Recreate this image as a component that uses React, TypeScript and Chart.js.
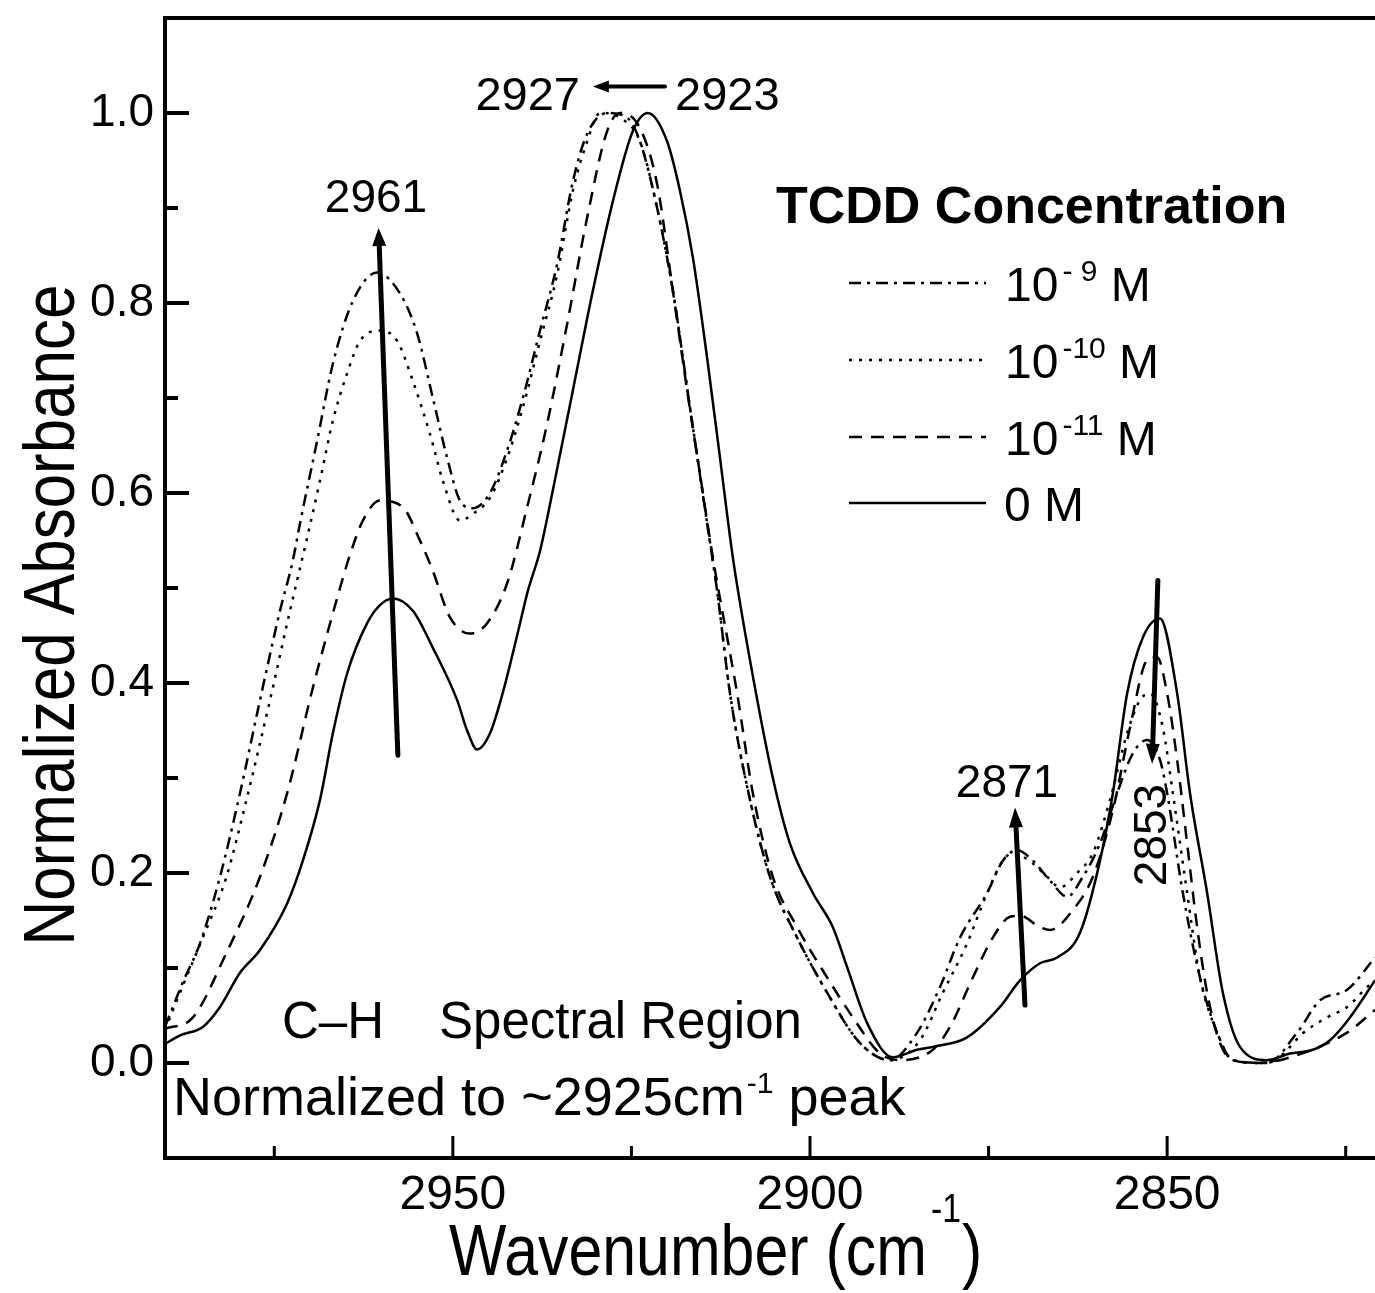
import React, { useEffect, useRef } from 'react';
import { Chart, registerables } from 'chart.js';

Chart.register(...registerables);

const FONT = '"Liberation Sans", Arial, Helvetica, sans-serif';

// ---------------- data (wavenumber in cm-1, normalized absorbance) ----------------
// 10^-9 M (dash-dot)
const wn9 = [2990.3, 2987.8, 2985.4, 2982.6, 2979.8, 2977.0, 2974.2, 2972.4, 2971.4, 2969.0, 2966.8, 2964.0, 2960.6, 2957.4, 2955.0, 2952.8, 2950.8, 2949.0, 2947.2, 2944.8, 2942.4, 2940.2, 2937.8, 2935.4, 2933.2, 2931.2, 2928.4, 2925.6, 2923.8, 2921.4, 2919.2, 2916.8, 2914.4, 2913.0, 2911.2, 2908.4, 2905.6, 2901.8, 2897.6, 2893.0, 2888.8, 2885.0, 2881.8, 2879.0, 2875.2, 2873.0, 2871.0, 2868.8, 2866.4, 2864.0, 2861.8, 2859.4, 2857.0, 2854.8, 2852.8, 2851.0, 2850.0, 2847.8, 2845.4, 2843.0, 2840.8, 2836.0, 2831.8, 2828.6, 2824.8, 2820.9];
const abs9 = [0.038, 0.085, 0.126, 0.196, 0.284, 0.382, 0.476, 0.529, 0.568, 0.655, 0.736, 0.802, 0.832, 0.810, 0.768, 0.700, 0.637, 0.592, 0.584, 0.600, 0.645, 0.700, 0.771, 0.841, 0.928, 0.978, 1.000, 0.995, 0.970, 0.900, 0.813, 0.690, 0.568, 0.497, 0.389, 0.277, 0.196, 0.132, 0.074, 0.021, 0.003, 0.032, 0.080, 0.132, 0.179, 0.213, 0.224, 0.213, 0.192, 0.175, 0.196, 0.231, 0.284, 0.326, 0.340, 0.319, 0.284, 0.179, 0.090, 0.032, 0.003, 0.000, 0.032, 0.066, 0.077, 0.111];

// 10^-10 M (dotted)
const wn10 = [2990.3, 2987.6, 2985.0, 2981.7, 2978.9, 2975.6, 2972.8, 2970.4, 2968.6, 2966.8, 2964.8, 2963.0, 2960.2, 2957.8, 2955.6, 2953.2, 2951.4, 2949.0, 2947.2, 2944.8, 2942.4, 2940.2, 2937.8, 2935.4, 2933.2, 2931.2, 2929.4, 2926.6, 2923.8, 2921.4, 2919.2, 2916.8, 2914.4, 2913.0, 2911.2, 2908.4, 2905.6, 2901.8, 2897.6, 2893.0, 2888.8, 2884.6, 2881.4, 2878.0, 2875.2, 2873.0, 2871.6, 2868.8, 2866.8, 2865.0, 2862.6, 2860.4, 2858.0, 2855.6, 2853.8, 2852.4, 2850.6, 2849.2, 2847.2, 2845.4, 2843.0, 2840.8, 2836.0, 2830.4, 2827.6, 2824.8, 2822.0, 2820.9];
const abs10 = [0.035, 0.085, 0.132, 0.196, 0.277, 0.382, 0.476, 0.553, 0.613, 0.676, 0.726, 0.760, 0.771, 0.760, 0.718, 0.662, 0.613, 0.571, 0.578, 0.595, 0.637, 0.690, 0.760, 0.830, 0.918, 0.970, 1.000, 0.995, 0.970, 0.900, 0.813, 0.690, 0.568, 0.497, 0.389, 0.277, 0.196, 0.132, 0.074, 0.021, 0.003, 0.024, 0.074, 0.126, 0.179, 0.213, 0.221, 0.210, 0.196, 0.185, 0.200, 0.221, 0.277, 0.347, 0.382, 0.389, 0.353, 0.284, 0.179, 0.090, 0.032, 0.003, 0.000, 0.035, 0.048, 0.059, 0.080, 0.087];

// 10^-11 M (dashed)
const wn11 = [2990.3, 2986.4, 2981.7, 2977.0, 2973.2, 2969.6, 2965.8, 2964.4, 2962.6, 2960.2, 2957.0, 2954.6, 2952.8, 2950.4, 2947.6, 2945.2, 2942.4, 2939.6, 2936.8, 2934.0, 2931.2, 2928.4, 2926.6, 2923.8, 2921.4, 2919.2, 2917.2, 2915.4, 2913.6, 2910.2, 2908.0, 2905.2, 2901.8, 2897.6, 2894.0, 2890.2, 2887.4, 2882.8, 2880.4, 2877.2, 2874.4, 2872.0, 2870.6, 2867.8, 2866.4, 2863.2, 2860.4, 2857.6, 2855.2, 2852.8, 2851.4, 2850.0, 2848.6, 2847.2, 2845.8, 2844.4, 2842.6, 2840.8, 2837.0, 2832.8, 2824.8, 2820.9];
const abs11 = [0.036, 0.048, 0.116, 0.196, 0.284, 0.395, 0.500, 0.535, 0.571, 0.592, 0.585, 0.550, 0.518, 0.469, 0.452, 0.463, 0.505, 0.585, 0.673, 0.778, 0.890, 0.981, 1.000, 0.984, 0.925, 0.813, 0.708, 0.620, 0.532, 0.389, 0.284, 0.196, 0.143, 0.090, 0.048, 0.010, 0.003, 0.014, 0.038, 0.090, 0.132, 0.154, 0.155, 0.143, 0.140, 0.161, 0.196, 0.266, 0.353, 0.424, 0.427, 0.389, 0.319, 0.231, 0.143, 0.074, 0.021, 0.003, 0.000, 0.006, 0.032, 0.056];

// 0 M (solid)
const wn0 = [2990.3, 2988.2, 2985.0, 2982.6, 2979.8, 2977.0, 2973.2, 2971.0, 2968.6, 2966.8, 2964.8, 2962.0, 2960.2, 2958.4, 2955.6, 2952.8, 2949.4, 2948.0, 2946.6, 2944.8, 2943.0, 2941.0, 2939.5, 2937.8, 2936.0, 2933.2, 2930.4, 2927.6, 2924.8, 2922.7, 2920.0, 2918.2, 2916.4, 2914.4, 2912.6, 2910.8, 2908.4, 2905.2, 2902.8, 2899.6, 2896.8, 2894.8, 2892.0, 2888.4, 2885.0, 2882.8, 2878.0, 2873.4, 2870.6, 2867.8, 2865.4, 2862.2, 2859.4, 2857.6, 2855.6, 2853.4, 2851.0, 2848.6, 2846.8, 2844.4, 2842.2, 2839.8, 2836.0, 2832.8, 2829.6, 2827.2, 2824.4, 2820.9];
const abs0 = [0.020, 0.029, 0.038, 0.059, 0.095, 0.119, 0.168, 0.213, 0.277, 0.347, 0.410, 0.463, 0.482, 0.489, 0.476, 0.437, 0.382, 0.350, 0.330, 0.347, 0.390, 0.450, 0.497, 0.539, 0.603, 0.708, 0.813, 0.907, 0.981, 1.000, 0.970, 0.918, 0.848, 0.742, 0.637, 0.532, 0.424, 0.300, 0.231, 0.179, 0.143, 0.101, 0.042, 0.006, 0.014, 0.017, 0.027, 0.059, 0.087, 0.105, 0.111, 0.137, 0.213, 0.284, 0.389, 0.448, 0.468, 0.389, 0.284, 0.179, 0.074, 0.017, 0.003, 0.010, 0.014, 0.024, 0.048, 0.087];

const seriesLabels = ['10^-9 M', '10^-10 M', '10^-11 M', '0 M'];
const legendBase = ['10', '10', '10', '0'];
const legendSup = ['- 9', '-10', '-11', ''];

const xMajorTicks = [2950, 2900, 2850];
const xMinorTicks = [2975, 2925, 2875, 2825];
const yMajorTicks = [0, 0.2, 0.4, 0.6, 0.8, 1.0];
const yMinorTicks = [0.1, 0.3, 0.5, 0.7, 0.9];

const X_LEFT = 2990.3;
const X_RIGHT = 2820.9;
const Y_MIN = -0.1;
const Y_MAX = 1.1;

// ---------------- styles ----------------
const DASHES: number[][] = [[12, 6, 3, 6], [3, 7], [13, 9], []];
const LINE_W = 2.5;

const font = (size: number, bold = false) => `${bold ? 'bold ' : ''}${size}px ${FONT}`;

function drawArrow(ctx: CanvasRenderingContext2D, x1: number, y1: number, x2: number, y2: number, lw: number, headLen: number, headW: number) {
  const dx = x2 - x1;
  const dy = y2 - y1;
  const len = Math.hypot(dx, dy);
  const ux = dx / len;
  const uy = dy / len;
  const bx = x2 - ux * headLen;
  const by = y2 - uy * headLen;
  ctx.lineWidth = lw;
  ctx.lineCap = 'round';
  ctx.setLineDash([]);
  ctx.beginPath();
  ctx.moveTo(x1, y1);
  ctx.lineTo(bx + ux * 2, by + uy * 2);
  ctx.stroke();
  ctx.beginPath();
  ctx.moveTo(x2, y2);
  ctx.lineTo(bx - uy * headW, by + ux * headW);
  ctx.lineTo(bx + uy * headW, by - ux * headW);
  ctx.closePath();
  ctx.fill();
}

function drawText(ctx: CanvasRenderingContext2D, s: string, x: number, y: number, size: number, align: CanvasTextAlign = 'left', bold = false) {
  ctx.font = font(size, bold);
  ctx.textAlign = align;
  ctx.textBaseline = 'alphabetic';
  ctx.fillText(s, x, y);
  return ctx.measureText(s).width;
}

const notesPlugin = {
  id: 'notesPlugin',
  afterDraw(chart: any) {
    const ctx: CanvasRenderingContext2D = chart.ctx;
    const xs = chart.scales.x;
    const ys = chart.scales.y;
    const { left, right, top, bottom } = chart.chartArea;
    const X = (v: number) => xs.getPixelForValue(v);
    const Y = (v: number) => ys.getPixelForValue(v);
    ctx.save();
    ctx.fillStyle = '#000';
    ctx.strokeStyle = '#000';
    ctx.setLineDash([]);

    // frame
    ctx.lineWidth = 4;
    ctx.lineJoin = 'miter';
    ctx.lineCap = 'butt';
    ctx.beginPath();
    ctx.moveTo(right + 4, top);
    ctx.lineTo(left, top);
    ctx.lineTo(left, bottom);
    ctx.lineTo(right + 4, bottom);
    ctx.stroke();

    // y ticks (inward)
    ctx.lineWidth = 4;
    ctx.beginPath();
    yMajorTicks.forEach((v) => { ctx.moveTo(left, Y(v)); ctx.lineTo(left + 24, Y(v)); });
    yMinorTicks.forEach((v) => { ctx.moveTo(left, Y(v)); ctx.lineTo(left + 13, Y(v)); });
    ctx.stroke();
    // x ticks (inward)
    ctx.lineWidth = 3;
    ctx.beginPath();
    xMajorTicks.forEach((v) => { ctx.moveTo(X(v), bottom); ctx.lineTo(X(v), bottom - 22); });
    xMinorTicks.forEach((v) => { ctx.moveTo(X(v), bottom); ctx.lineTo(X(v), bottom - 12); });
    ctx.stroke();

    // arrows
    drawArrow(ctx, X(2957.7), Y(0.324), X(2960.4), Y(0.879), 5, 18, 7);
    drawArrow(ctx, X(2920.3), Y(1.028), X(2930.4), Y(1.028), 4, 16, 6);
    drawArrow(ctx, X(2869.9), Y(0.061), X(2871.3), Y(0.269), 5, 20, 7);
    drawArrow(ctx, X(2851.3), Y(0.508), X(2852.1), Y(0.315), 5, 20, 7);

    // peak labels
    drawText(ctx, '2927', 580, 110, 47, 'right');
    drawText(ctx, '2923', 675, 110, 47, 'left');
    drawText(ctx, '2961', 376, 212, 46, 'center');
    drawText(ctx, '2871', 1007, 797, 46, 'center');
    ctx.save();
    ctx.translate(1166, 835);
    ctx.rotate(-Math.PI / 2);
    drawText(ctx, '2853', 0, 0, 46, 'center');
    ctx.restore();

    // region notes
    drawText(ctx, 'C\u2013H', 282, 1038, 51, 'left');
    drawText(ctx, 'Spectral Region', 439, 1038, 51, 'left');
    let cx = 173;
    cx += drawText(ctx, 'Normalized to ~2925cm', cx, 1115, 54, 'left');
    cx += 2;
    cx += drawText(ctx, '-1', cx, 1093, 30, 'left');
    drawText(ctx, ' peak', cx, 1115, 54, 'left');

    // legend
    drawText(ctx, 'TCDD Concentration', 776, 223, 52, 'left', true);
    const lineYs = [283, 360, 437, 503];
    legendBase.forEach((base, i) => {
      const ly = lineYs[i];
      ctx.lineWidth = LINE_W;
      ctx.lineCap = 'butt';
      ctx.setLineDash(DASHES[i]);
      ctx.beginPath();
      ctx.moveTo(849, ly);
      ctx.lineTo(986, ly);
      ctx.stroke();
      ctx.setLineDash([]);
      const by = ly + 18;
      let tx = i === 3 ? 1004 : 1005;
      tx += drawText(ctx, base, tx, by, 48, 'left');
      if (legendSup[i]) {
        tx += 4;
        tx += drawText(ctx, legendSup[i], tx, by - 20, 30, 'left');
      }
      drawText(ctx, ' M', tx, by, 48, 'left');
    });

    // axis titles (condensed)
    ctx.save();
    ctx.translate(74, 615);
    ctx.rotate(-Math.PI / 2);
    ctx.scale(0.86, 1);
    drawText(ctx, 'Normalized Absorbance', 0, 0, 72, 'center');
    ctx.restore();

    ctx.save();
    ctx.translate(449, 1275);
    ctx.scale(0.845, 1);
    let wx = 0;
    wx += drawText(ctx, 'Wavenumber (cm', wx, 0, 72, 'left');
    wx += 5;
    wx += drawText(ctx, '-1', wx, -53, 40, 'left');
    drawText(ctx, ')', wx + 1, 0, 72, 'left');
    ctx.restore();

    ctx.restore();
  },
};

export default function App() {
  const canvasRef = useRef<HTMLCanvasElement | null>(null);

  useEffect(() => {
    const canvas = canvasRef.current;
    if (!canvas) return;
    const series = [
      { wn: wn9, abs: abs9 },
      { wn: wn10, abs: abs10 },
      { wn: wn11, abs: abs11 },
      { wn: wn0, abs: abs0 },
    ];
    const chart = new Chart(canvas, {
      type: 'line',
      data: {
        datasets: series.map((s, i) => ({
          label: seriesLabels[i],
          data: s.wn.map((x, j) => ({ x, y: s.abs[j] })),
          borderColor: '#000',
          borderWidth: LINE_W,
          borderDash: DASHES[i],
          pointRadius: 0,
          fill: false,
          cubicInterpolationMode: 'monotone' as const,
        })),
      },
      options: {
        animation: false,
        responsive: false,
        maintainAspectRatio: false,
        parsing: false as any,
        layout: { padding: { top: 18, right: 0, left: 0, bottom: 0 } },
        plugins: {
          legend: { display: false },
          tooltip: { enabled: false },
          title: { display: false },
        },
        scales: {
          x: {
            type: 'linear',
            reverse: true,
            min: X_RIGHT,
            max: X_LEFT,
            grid: { display: false, drawTicks: false, tickLength: 0 },
            border: { display: false },
            ticks: {
              color: '#000',
              font: { family: FONT, size: 48 },
              padding: 9,
              maxRotation: 0,
              autoSkip: false,
              callback: (v: any) => String(v),
            },
            afterBuildTicks: (s: any) => { s.ticks = xMajorTicks.map((v) => ({ value: v })); },
            afterFit: (s: any) => { s.height = 135; s.paddingLeft = 0; s.paddingRight = 0; },
          },
          y: {
            type: 'linear',
            min: Y_MIN,
            max: Y_MAX,
            grid: { display: false, drawTicks: false, tickLength: 0 },
            border: { display: false },
            ticks: {
              color: '#000',
              font: { family: FONT, size: 46 },
              padding: 11,
              autoSkip: false,
              callback: (v: any) => Number(v).toFixed(1),
            },
            afterBuildTicks: (s: any) => { s.ticks = yMajorTicks.map((v) => ({ value: v })); },
            afterFit: (s: any) => { s.width = 165; s.paddingTop = 0; s.paddingBottom = 0; },
          },
        },
      },
      plugins: [notesPlugin],
    } as any);
    return () => chart.destroy();
  }, []);

  return (
    <div style={{ position: 'absolute', left: 0, top: 0, width: 1375, height: 1293, background: '#fff' }}>
      <canvas ref={canvasRef} width={1375} height={1293} style={{ display: 'block', width: 1375, height: 1293 }} />
    </div>
  );
}
